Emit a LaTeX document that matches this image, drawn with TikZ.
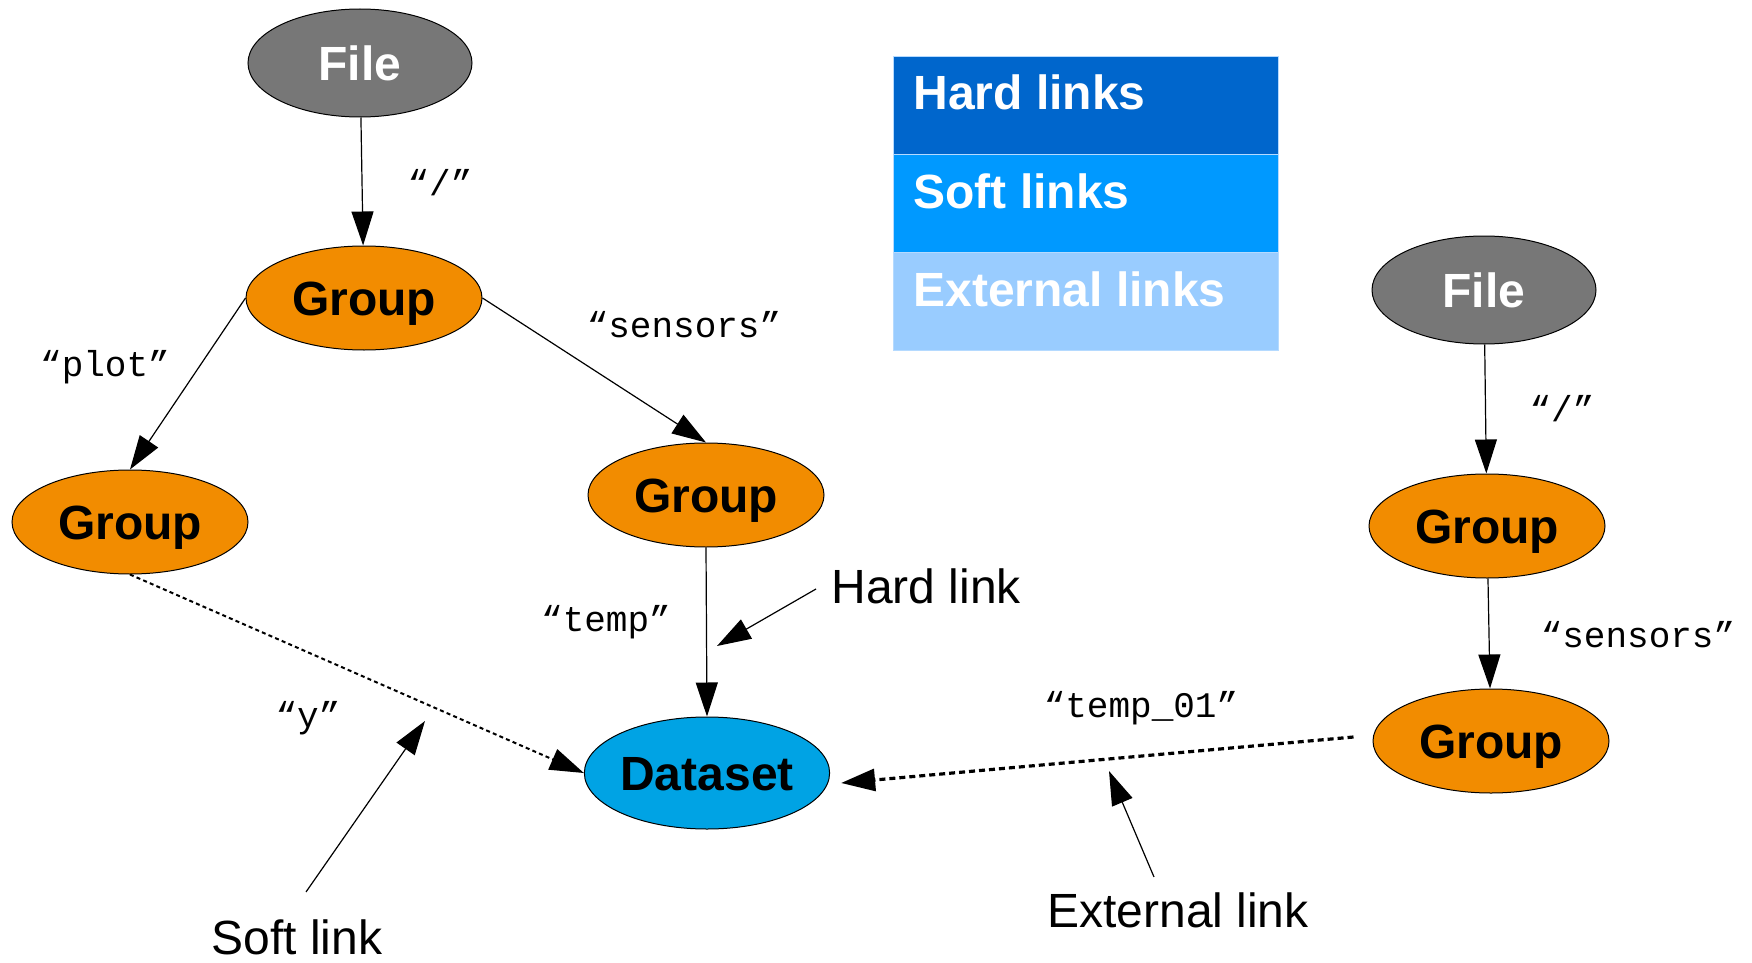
\documentclass[tikz,border=0pt]{standalone}
\usepackage{fontspec}
\setmainfont{Liberation Sans}
\newfontfamily\codefont{Liberation Mono}
\usetikzlibrary{shapes.geometric,arrows.meta,calc}

\definecolor{filegray}{HTML}{777777}
\definecolor{grouporange}{HTML}{F28C00}
\definecolor{datablue}{HTML}{00A3E4}
\definecolor{hardblue}{HTML}{0066CC}
\definecolor{softblue}{HTML}{0099FF}
\definecolor{extblue}{HTML}{99CCFF}
\definecolor{rowline}{HTML}{B5DAFF}

\tikzset{
  objnode/.style={ellipse, draw=black, line width=0.5pt, inner sep=0pt,
    text height=17.3pt, text depth=0pt,
    font=\fontsize{24}{28}\selectfont\bfseries},
  filenode/.style={objnode, fill=filegray, text=white,
    minimum width=112pt, minimum height=54pt},
  groupnode/.style={objnode, fill=grouporange, text=black,
    minimum width=118pt, minimum height=52pt},
  datanode/.style={objnode, fill=datablue, text=black,
    minimum width=118pt, minimum height=56pt},
  tip/.style={-{Triangle[length=17pt,width=11pt]}},
  hardedge/.style={tip, line width=0.6pt},
  softedge/.style={tip, line width=1pt, dash pattern=on 2pt off 1.6pt},
  extedge/.style={tip, line width=1.6pt, dash pattern=on 3pt off 2pt},
  pointer/.style={tip, line width=0.6pt},
  linkname/.style={inner sep=0pt, text depth=0pt,
    font=\codefont\fontsize{18}{20}\selectfont},
  note/.style={inner sep=0pt, font=\fontsize{24}{28}\selectfont},
  legrow/.style={rectangle, draw=rowline, line width=0.6pt, inner sep=0pt,
    minimum width=192.5pt, minimum height=49pt},
  legtext/.style={anchor=base west, inner sep=0pt, text=white,
    font=\fontsize{24}{28}\selectfont\bfseries},
}

\begin{document}
\begin{tikzpicture}[x=0.5pt,y=-0.5pt]
\useasboundingbox (0,0) rectangle (1752,963);

% left file tree
\node[filenode]  (f1) at (360,63)  {File};
\node[groupnode] (g1) at (364,298) {Group};
\node[groupnode] (gl) at (130,522) {Group};
\node[groupnode] (gm) at (706,495) {Group};
\node[datanode]  (ds) at (707,773) {Dataset};

% right file tree
\node[filenode]  (f2)  at (1484,290) {File};
\node[groupnode] (gr1) at (1487,526) {Group};
\node[groupnode] (gr2) at (1491,741) {Group};

% hard links
\draw[hardedge] (f1) -- (g1);
\draw[hardedge] (g1.west) -- (gl.north);
\draw[hardedge] (g1.east) -- (gm.north);
\draw[hardedge] (gm.south) -- (ds.north);
\draw[hardedge] (f2) -- (gr1);
\draw[hardedge] (gr1) -- (gr2);

% soft link
\draw[softedge] (gl.south) -- (ds.west);

% external link
\coordinate (extstart) at ($(gr2.west)+(-19,-4)$);
\coordinate (extend)   at ($(ds.east)+(11,10)$);
\draw[extedge] (extstart) -- (extend);

% link names
\node[linkname] (n1) at (440,182)  {“/”};
\node[linkname] (n2) at (684,324)  {“sensors”};
\node[linkname] (n3) at (105,363)  {“plot”};
\node[linkname] (n4) at (606,618)  {“temp”};
\node[linkname] (n5) at (308,714)  {“y”};
\node[linkname] (n6) at (1141,704) {“temp\_01”};
\node[linkname] (n7) at (1562,408) {“/”};
\node[linkname] (n8) at (1638,634) {“sensors”};

% annotations
\node[note, anchor=west] (hl) at (831,586) {Hard link};
\node[note] (sl) at (297,937) {Soft link};
\node[note] (el) at (1178,910) {External link};

\coordinate (hltip) at (717,646);
\coordinate (sltip) at (425,721);
\coordinate (eltip) at (1109,771);
\draw[pointer] ($(hl.west)+(-15,3)$) -- (hltip);
\draw[pointer] ($(sl.north)+(9,-27)$) -- (sltip);
\draw[pointer] ($(el.north)+(-24,-15)$) -- (eltip);

% legend
\node[legrow, fill=hardblue, anchor=north west] (r1) at (893,56)  {};
\node[legrow, fill=softblue, anchor=north west] (r2) at (893,154) {};
\node[legrow, fill=extblue,  anchor=north west] (r3) at (893,252) {};
\node[legtext] (t1) at ($(r1.north west)+(20,54)$) {Hard links};
\node[legtext] (t2) at ($(r2.north west)+(20,54)$) {Soft links};
\node[legtext] (t3) at ($(r3.north west)+(20,54)$) {External links};
\end{tikzpicture}
\end{document}
